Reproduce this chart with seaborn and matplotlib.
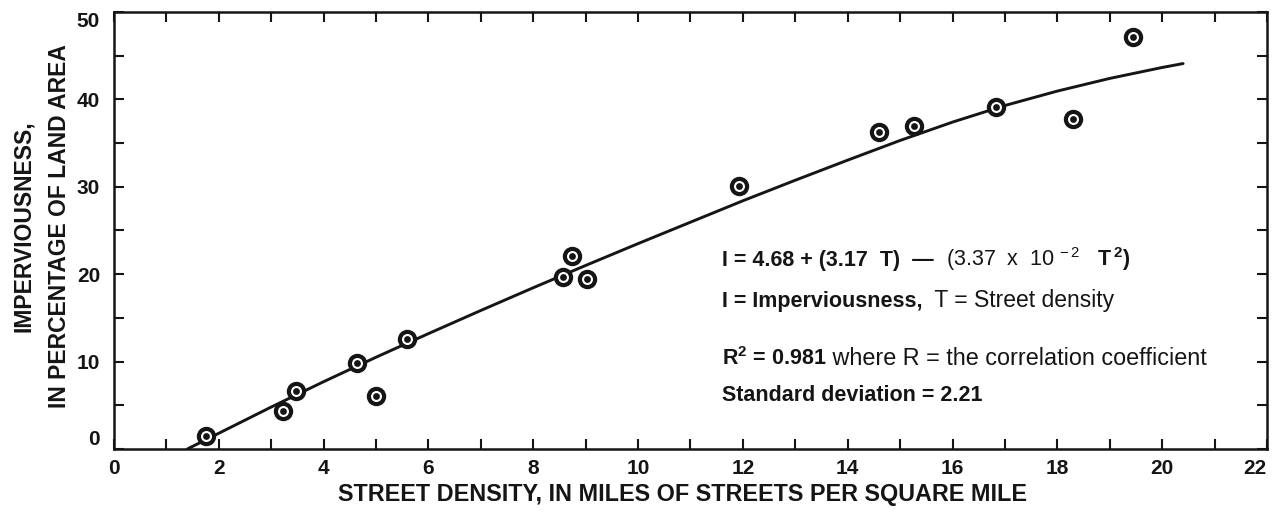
import matplotlib
matplotlib.use("Agg")
import matplotlib.pyplot as plt
from matplotlib.ticker import MultipleLocator
import seaborn as sns
import pandas as pd

street_density = [1.75, 3.22, 3.47, 4.64, 5.0, 5.59, 8.57, 8.74, 9.03, 11.93,
                  14.6, 15.27, 16.83, 18.3, 19.45]
imperviousness = [1.5, 4.4, 6.6, 9.8, 6.1, 12.6, 19.7, 22.1, 19.4, 30.1,
                  36.3, 36.9, 39.1, 37.7, 47.1]

# regression curve as drawn
fit_t = [1.4, 2, 3, 4, 5, 6, 7, 8, 9, 10, 11, 12, 13, 14, 15, 16, 17, 18, 19, 20, 20.4]
fit_i = [0.0, 1.8, 4.8, 7.7, 10.5, 13.2, 15.85, 18.45, 21.0, 23.5, 25.95, 28.4,
         30.75, 33.05, 35.3, 37.4, 39.3, 40.95, 42.4, 43.65, 44.1]

x_ticks = [0, 2, 4, 6, 8, 10, 12, 14, 16, 18, 20, 22]
y_ticks = [0, 10, 20, 30, 40, 50]

sns.set_theme(style="ticks")
plt.rcParams['font.family'] = ['Liberation Sans', 'DejaVu Sans']
plt.rcParams['mathtext.default'] = 'regular'

ink = '#151515'
pts = pd.DataFrame({'T': street_density, 'I': imperviousness})
fit = pd.DataFrame({'T': fit_t, 'I': fit_i})

fig = plt.figure(figsize=(12.75, 5.21), dpi=100)
ax = fig.add_axes([0.0894, 0.1382, 0.9043, 0.8388])

sns.lineplot(data=fit, x='T', y='I', ax=ax, color=ink, linewidth=2.1, sort=False)
# ring with a dot in the middle
sns.scatterplot(data=pts, x='T', y='I', ax=ax, marker='o', s=120,
                facecolor='white', edgecolor=ink, linewidth=3.0, zorder=3)
sns.scatterplot(data=pts, x='T', y='I', ax=ax, marker='o', s=24,
                color=ink, linewidth=0, zorder=4)

ax.set_xlim(0, 22)
ax.set_ylim(0, 50)
ax.set_xticks(x_ticks)
ax.set_yticks(y_ticks)
ax.xaxis.set_minor_locator(MultipleLocator(1))
ax.yaxis.set_minor_locator(MultipleLocator(5))

for side in ['left', 'right', 'top', 'bottom']:
    ax.spines[side].set_visible(True)
    ax.spines[side].set_linewidth(1.8)
    ax.spines[side].set_color(ink)

ax.tick_params(which='both', direction='in', length=7, width=1.5, color=ink,
               top=True, right=True, labelcolor=ink)
ax.tick_params(axis='x', which='major', pad=7)
ax.tick_params(axis='y', which='major', pad=10)

ax.set_xticklabels([str(v) for v in x_ticks], fontsize=15, fontweight='bold')
ax.set_yticklabels([str(v) for v in y_ticks], fontsize=15, fontweight='bold')
# end labels kept inside the frame, as in the original
ax.get_xticklabels()[-1].set_ha('right')
ax.get_yticklabels()[0].set_va('bottom')
ax.get_yticklabels()[-1].set_va('top')

ax.set_xlabel('STREET DENSITY, IN MILES OF STREETS PER SQUARE MILE',
              fontsize=16.8, fontweight='bold', color=ink)
ax.set_ylabel('IMPERVIOUSNESS,\nIN PERCENTAGE OF LAND AREA',
              fontsize=16.5, fontweight='bold', color=ink, linespacing=1.75)
ax.xaxis.set_label_coords(0.493, -0.077)
ax.yaxis.set_label_coords(-0.037, 0.51)

fs = 15.5


def text_line(y, parts):
    prev = None
    for s, w, size in parts:
        if prev is None:
            prev = ax.text(11.6, y, s, fontsize=size, fontweight=w, color=ink,
                           ha='left', va='baseline')
        else:
            prev = ax.annotate(s, xy=(1, y), xycoords=(prev, 'data'),
                               fontsize=size, fontweight=w, color=ink,
                               ha='left', va='baseline')


text_line(20.9, [('I = 4.68 + (3.17  T)  \u2014  ', 'bold', fs),
                 ('(3.37  x  10$^{\\,-2}$', 'normal', fs),
                 ('   T$^{\\,2}$)', 'bold', fs)])
text_line(16.3, [('I = Imperviousness,', 'bold', fs),
                 ('  T = Street density', 'normal', 16.5)])
text_line(9.65, [('R$^{2}$ = 0.981', 'bold', fs),
                 (' where R = the correlation coefficient', 'normal', 16.8)])
text_line(5.5, [('Standard deviation = 2.21', 'bold', fs)])

fig.savefig('out.png', dpi=100)
